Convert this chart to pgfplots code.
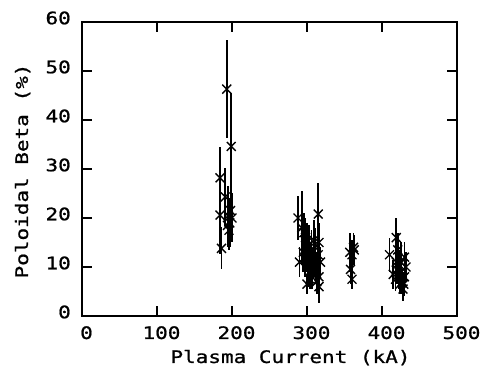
\documentclass[border=0pt]{standalone}
\usepackage{pgfplots}
\pgfplotsset{compat=1.18}
\usepackage{fontspec}
\setmainfont{DejaVu Sans Mono}[FakeStretch=1.22, FakeBold=1]
\begin{document}
\begin{tikzpicture}
\begin{axis}[
  scale only axis,
  width=375pt, height=294pt,
  xmin=0, xmax=500, ymin=0, ymax=60,
  xtick={0,100,200,300,400,500},
  ytick={0,10,20,30,40,50,60},
  tick align=inside,
  major tick length=10pt,
  tick style={black, line width=1.3pt},
  axis line style={line width=1.4pt},
  ticklabel style={font=\fontsize{17.2}{19}\selectfont, inner sep=0pt},
  /pgf/number format/assume math mode=true,
  xticklabel style={anchor=base, yshift=-23pt, xshift=4.5pt},
  yticklabel style={anchor=east, xshift=-11pt, yshift=4pt},
  xlabel={Plasma Current (kA)},
  ylabel={Poloidal Beta (\%)},
  label style={font=\fontsize{17.2}{19}\selectfont, inner sep=0pt},
  xlabel style={at={([xshift=21pt,yshift=-47pt]axis description cs:0.5,0)}, anchor=base},
  ylabel style={at={([xshift=-54pt,yshift=-2pt]axis description cs:0,0.5)}, anchor=base},
  every error bar/.append style={line width=1.6pt, black},
]
\addplot[only marks, mark=x, mark size=6.3pt, line width=1.4pt, black,
  error bars/.cd, y dir=both, y explicit, error mark=none,
  error bar style={line width=1.6pt, black}]
  table[x=x, y=y, y error=e] {
x y e
184 28.2 6.3
193 46.3 10
199 34.6 11
184 20.6 8
186 13.8 4.3
191 24.3 6
195 20.5 6
197 19 5
198 21.5 6
196 17.5 4
200 20 5
194 18.5 4.5
288 20 4.5
293 18 7.5
295 13 4
290 11 3
298 16 4
300 15 4
302 12 5
305 11 4
303 9 3
306 13.5 4
308 10.5 3
310 12 4
311 14 4
300 6.5 2
304 7.5 2
315 20.8 6.3
316 15 4
315 12.5 4
316 8 3
316 6 3.3
318 11 3
297 12 4
301 10 3
299 13 4
307 8.5 3
309 15.5 4
312 10 3
296 17 4
303 14.5 4
313 7 2.5
357 13 4
362 14 3
360 12.5 3
358 9.5 3
360 7.5 2
363 13.5 3
410 12.5 3.5
419 16 4
421 13.5 3.5
425 11 4
430 12 3
415 8.5 3
418 7.5 2.5
420 9.5 3
422 8 2.5
424 6.5 2
426 9 3
428 5.5 2.5
430 8 2.5
432 10 3
423 10.5 3
427 7 2.5
419 11 3
429 6.5 2.5
};
\coordinate (sw) at (rel axis cs:0,0);
\coordinate (ne) at (rel axis cs:1,1);
\end{axis}
\pgfresetboundingbox
\path ([xshift=-82pt,yshift=-52pt]sw) rectangle ([xshift=25pt,yshift=22pt]ne);
\end{tikzpicture}
\end{document}
